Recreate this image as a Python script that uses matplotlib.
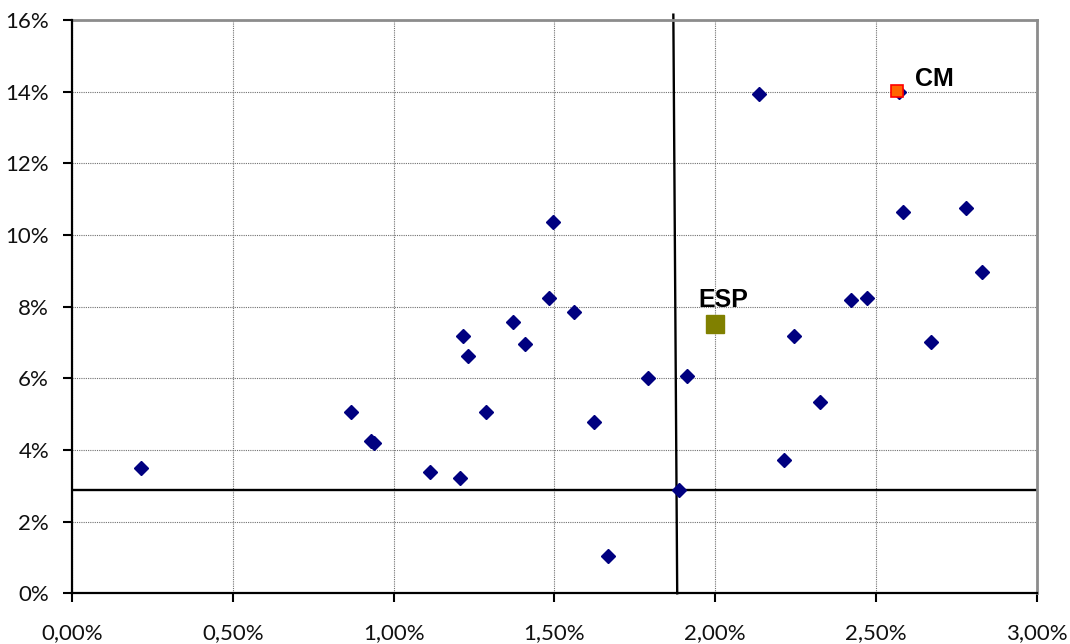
import numpy as np
import matplotlib
matplotlib.use("Agg")
import matplotlib.pyplot as plt
from matplotlib.ticker import FuncFormatter

# x: growth (%), y: rate (%)
x_vals = [0.215, 0.867, 0.93, 0.94, 1.113, 1.206, 1.217, 1.230, 1.286, 1.371,
          1.410, 1.482, 1.496, 1.562, 1.624, 1.668, 1.790, 1.913, 1.888, 2.135,
          2.215, 2.246, 2.325, 2.424, 2.473, 2.572, 2.584, 2.670, 2.781, 2.830]
y_vals = [3.50, 5.06, 4.24, 4.19, 3.39, 3.23, 7.18, 6.62, 5.06, 7.56,
          6.96, 8.23, 10.35, 7.84, 4.77, 1.03, 6.00, 6.06, 2.88, 13.93,
          3.71, 7.17, 5.33, 8.18, 8.23, 13.98, 10.63, 7.01, 10.75, 8.96]

# highlighted regions
cm_x, cm_y = 2.567, 14.03
esp_x, esp_y = 2.000, 7.52

# reference lines (averages)
vline_x = [1.870, 1.882]
vline_y = [16.15, 0.0]
hline_y = 2.88

xticks = np.arange(0, 3.01, 0.5)
yticks = np.arange(0, 16.1, 2)

fig = plt.figure(figsize=(10.70, 6.44), dpi=100)
ax = fig.add_axes([0.0673, 0.0787, 0.9016, 0.8902])

ax.set_xlim(0, 3)
ax.set_ylim(0, 16)
ax.set_xticks(xticks)
ax.set_yticks(yticks)
ax.xaxis.set_major_formatter(FuncFormatter(lambda v, p: f"{v:.2f}%".replace(".", ",")))
ax.yaxis.set_major_formatter(FuncFormatter(lambda v, p: f"{v:.0f}%"))

ax.grid(True, color="#707070", linestyle=(0, (1, 1)), linewidth=0.8)
ax.set_axisbelow(True)

for s in ["top", "right"]:
    ax.spines[s].set_color("#8c8c8c")
    ax.spines[s].set_linewidth(2)
for s in ["left", "bottom"]:
    ax.spines[s].set_color("black")
    ax.spines[s].set_linewidth(1.6)
    ax.spines[s].set_zorder(4)

ax.tick_params(direction="out", length=6.5, width=1.5, color="black",
               labelsize=16, labelcolor="#111111")
ax.tick_params(axis="x", pad=15)
ax.tick_params(axis="y", pad=10)
for lbl in ax.get_xticklabels() + ax.get_yticklabels():
    lbl.set_fontfamily("Lato")

ax.plot(vline_x, vline_y, color="black", lw=1.7, clip_on=False, zorder=2)
ax.plot([0, 3], [hline_y, hline_y], color="black", lw=1.7, zorder=2)

ax.plot(x_vals, y_vals, linestyle="none", marker="D", markersize=7.3,
        color="#000080", zorder=3)

ax.plot([cm_x], [cm_y], linestyle="none", marker="s", markersize=8,
        markerfacecolor="#ff6600", markeredgecolor="#ff0000", markeredgewidth=1.2,
        zorder=4)
ax.text(cm_x + 0.055, cm_y + 0.33, "CM", fontsize=18, fontweight="bold",
        family="Liberation Sans", ha="left", va="center")

ax.plot([esp_x], [esp_y], linestyle="none", marker="s", markersize=13,
        color="#808000", zorder=4)
ax.text(esp_x + 0.025, esp_y + 0.68, "ESP", fontsize=18, fontweight="bold",
        family="Liberation Sans", ha="center", va="center")

fig.savefig("out.png", dpi=100)
